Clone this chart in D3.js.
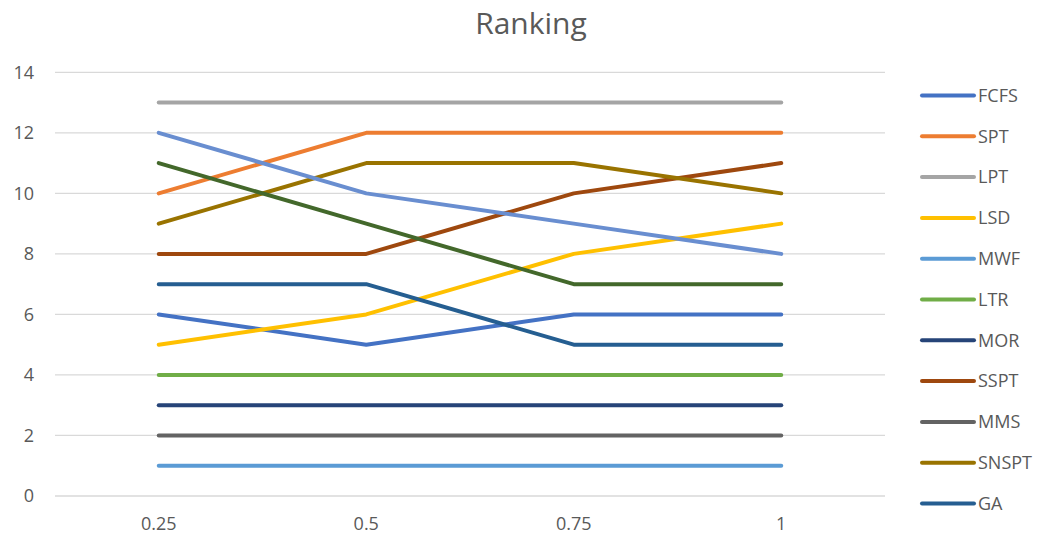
<!DOCTYPE html>
<html>
<head>
<meta charset="utf-8">
<script src="https://cdn.jsdelivr.net/npm/d3@7"></script>
<style>
  html, body { margin: 0; padding: 0; background: #fff; }
  svg { display: block; font-family: "Open Sans", "Liberation Sans", sans-serif; }
</style>
</head>
<body>
<svg id="chart" width="1040" height="536"></svg>
<script>
// Categories (x axis) and y-axis ticks
const categories = ["0.25", "0.5", "0.75", "1"];
const yTicks = [0, 2, 4, 6, 8, 10, 12, 14];

// Series names, in plotting order
const seriesNames = ["FCFS", "SPT", "LPT", "LSD", "MWF", "LTR", "MOR", "SSPT", "MMS", "SNSPT", "GA", "S12", "S13"];

// Ranking of each rule per category
const FCFS  = [6, 5, 6, 6];
const SPT   = [10, 12, 12, 12];
const LPT   = [13, 13, 13, 13];
const LSD   = [5, 6, 8, 9];
const MWF   = [1, 1, 1, 1];
const LTR   = [4, 4, 4, 4];
const MOR   = [3, 3, 3, 3];
const SSPT  = [8, 8, 10, 11];
const MMS   = [2, 2, 2, 2];
const SNSPT = [9, 11, 11, 10];
const GA    = [7, 7, 5, 5];
const S12   = [11, 9, 7, 7];
const S13   = [12, 10, 9, 8];

const seriesValues = [FCFS, SPT, LPT, LSD, MWF, LTR, MOR, SSPT, MMS, SNSPT, GA, S12, S13];
const seriesColors = ["#4472C4", "#ED7D31", "#A5A5A5", "#FFC000", "#5B9BD5", "#70AD47",
                      "#264478", "#9E480E", "#636363", "#997300", "#255E91", "#43682B", "#698ED0"];
const legendCount = 11; // the legend box only has room for the first eleven entries

const series = seriesNames.map((name, i) => ({ name, values: seriesValues[i], color: seriesColors[i] }));

const svg = d3.select("#chart");
const plot = { left: 55, right: 885, top: 72.3, bottom: 496 };

const x = d3.scaleBand().domain(categories).range([plot.left, plot.right]);
const y = d3.scaleLinear().domain([0, 14]).range([plot.bottom, plot.top]);
const cx = c => x(c) + x.bandwidth() / 2;

// Title
svg.append("text")
  .attr("x", 531).attr("y", 34)
  .attr("text-anchor", "middle")
  .attr("fill", "#595959")
  .style("font-size", "30px")
  .text("Ranking");

// Horizontal gridlines
svg.append("g")
  .selectAll("line")
  .data(yTicks)
  .join("line")
  .attr("x1", plot.left).attr("x2", plot.right)
  .attr("y1", d => y(d)).attr("y2", d => y(d))
  .attr("stroke", "#D9D9D9").attr("stroke-width", 1.3);

// Y axis labels
const yAxis = svg.append("g")
  .attr("transform", `translate(${plot.left - 21},0)`)
  .call(d3.axisLeft(y).tickValues(yTicks).tickSize(0).tickPadding(0));
yAxis.select(".domain").remove();
yAxis.selectAll("text")
  .attr("fill", "#595959")
  .style("font-size", "18px")
  .style("font-family", "'Open Sans', 'Liberation Sans', sans-serif");

// X axis labels
const xAxis = svg.append("g")
  .attr("transform", `translate(0,${plot.bottom + 21})`)
  .call(d3.axisBottom(x).tickSize(0).tickPadding(0));
xAxis.select(".domain").remove();
xAxis.selectAll("text")
  .attr("fill", "#595959")
  .style("font-size", "18px")
  .style("font-family", "'Open Sans', 'Liberation Sans', sans-serif");

// Series lines
const line = d3.line()
  .x((d, i) => cx(categories[i]))
  .y(d => y(d));

svg.append("g")
  .selectAll("path")
  .data(series)
  .join("path")
  .attr("d", d => line(d.values))
  .attr("fill", "none")
  .attr("stroke", d => d.color)
  .attr("stroke-width", 4)
  .attr("stroke-linecap", "round")
  .attr("stroke-linejoin", "round");

// Legend
const legend = svg.append("g")
  .selectAll("g")
  .data(series.slice(0, legendCount))
  .join("g")
  .attr("transform", (d, i) => `translate(922,${95.5 + i * 40.8})`);

legend.append("line")
  .attr("x1", 0).attr("x2", 52)
  .attr("stroke", d => d.color)
  .attr("stroke-width", 4)
  .attr("stroke-linecap", "round");

legend.append("text")
  .attr("x", 56).attr("y", 0)
  .attr("dy", "0.35em")
  .attr("fill", "#595959")
  .style("font-size", "18px")
  .text(d => d.name);
</script>
</body>
</html>
